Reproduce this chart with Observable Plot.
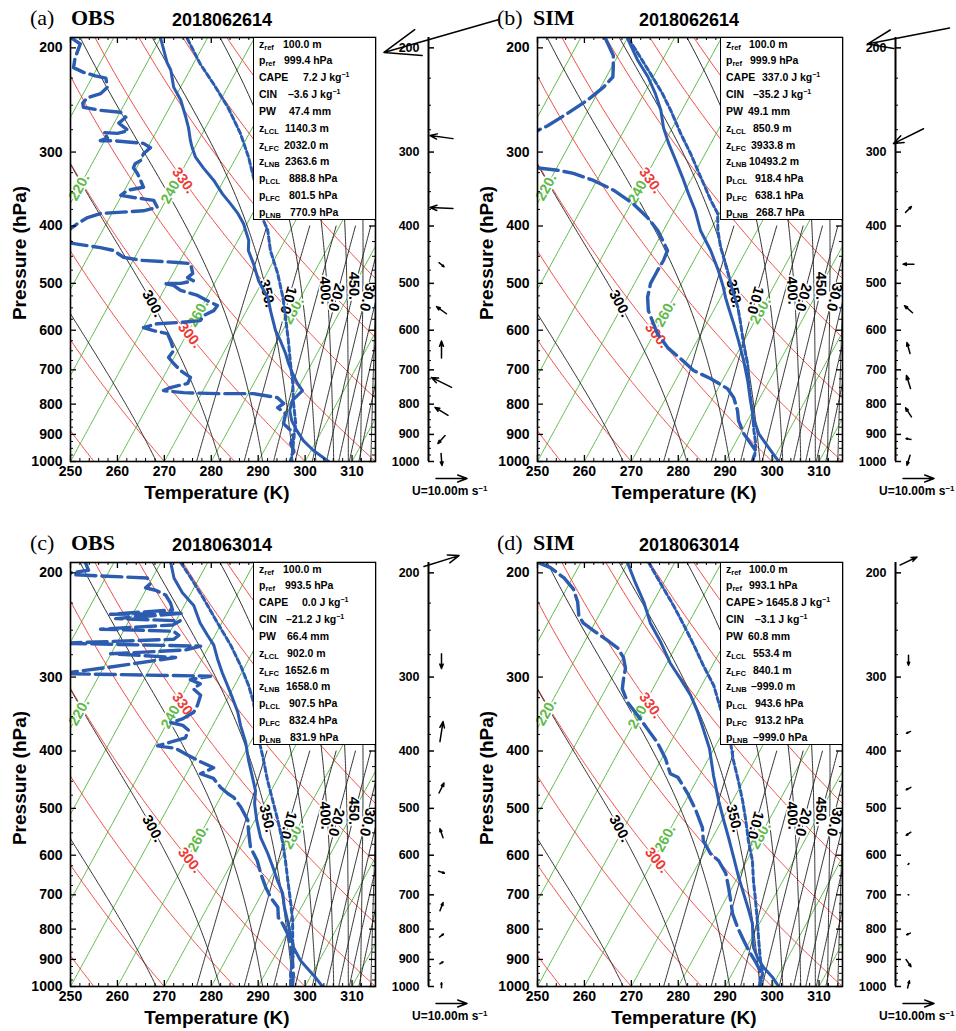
<!DOCTYPE html>
<html><head><meta charset="utf-8"><title>Skew-T soundings</title>
<script src="https://cdn.jsdelivr.net/npm/d3@7"></script>
<script src="https://cdn.jsdelivr.net/npm/@observablehq/plot@0.6"></script>
<style>
html,body{margin:0;padding:0;background:#fff}
#fig{position:relative;width:956px;height:1031px;overflow:hidden;font-family:"Liberation Sans",Arial,Helvetica,sans-serif;color:#000}
.panel{position:absolute;width:480px;height:510px}
.panel svg{position:absolute;top:0;overflow:visible}
.panel svg text{paint-order:stroke}
.tag{position:absolute;top:7px;font-family:"Liberation Serif","Times New Roman",serif;font-size:22px;line-height:22px;white-space:nowrap}
.src{position:absolute;top:7px;font-family:"Liberation Serif","Times New Roman",serif;font-weight:bold;font-size:22px;line-height:22px;white-space:nowrap}
.date{position:absolute;top:11px;font-weight:bold;font-size:18px;line-height:18px;white-space:nowrap}
.ylab{position:absolute;left:-70px;top:243px;width:180px;height:20px;line-height:20px;text-align:center;font-weight:bold;font-size:19px;transform:rotate(-90deg);white-space:nowrap}
.xlab{position:absolute;left:117px;top:483px;width:200px;height:20px;line-height:20px;text-align:center;font-weight:bold;font-size:19px;white-space:nowrap}
.info{position:absolute;left:253px;top:37px;width:123px;height:183px;background:#fff;border:1px solid #000;box-sizing:border-box;overflow:hidden;font-weight:bold;font-size:10.5px}
.info .r{position:absolute;white-space:nowrap;line-height:10px;height:10px}
.info sub{font-size:7.5px;vertical-align:-2px;line-height:0}
.info sup{font-size:7px;vertical-align:4px;line-height:0}
.uref{position:absolute;left:412px;top:485px;font-weight:bold;font-size:12px;line-height:12px;white-space:nowrap}
.uref sup{font-size:8px;vertical-align:4px;line-height:0}
</style></head>
<body><div id="fig"></div>
<script>
// ---------------- data ----------------
// profiles: [pressure hPa, temperature K]
const A_TEMP = [[192,219.9],[212,224.3],[218,225.9],[233,228.5],[245,231.5],[262,234.6],[273,236.4],[287,238.3],[295,239.5],[306,241.3],[319,244.2],[335,247.9],[353,251.3],[367,254.2],[380,256.7],[396,259.2],[423,262.3],[440,263.4],[463,266.0],[495,269.1],[514,271.3],[528,273.0],[556,275.1],[601,278.5],[625,280.7],[657,283.3],[683,285.1],[710,287.1],[738,289.3],[759,291.2],[774,290.7],[789,290.2],[820,290.8],[853,292.4],[886,294.6],[922,297.2],[958,300.5],[1000,305.0]];
const A_DEW = [[193,201.3],[197,203.6],[208,204.1],[216,204.9],[220,207.6],[223,210.5],[225,213.0],[233,214.4],[239,213.7],[243,211.3],[248,211.0],[252,211.6],[255,215.6],[257,220.1],[262,221.8],[268,221.0],[276,223.9],[279,221.9],[278,218.8],[284,220.3],[287,219.1],[287,221.9],[290,228.6],[295,230.6],[302,229.8],[310,230.0],[314,229.2],[319,229.3],[326,230.8],[335,232.3],[344,233.7],[348,230.7],[355,229.8],[358,232.8],[362,237.4],[372,239.0],[377,236.4],[381,227.6],[387,225.3],[396,223.9],[402,223.2],[415,222.0],[428,225.1],[435,231.5],[440,234.7],[452,237.6],[457,241.6],[461,249.7],[463,252.6],[481,254.2],[489,253.6],[495,255.2],[500,252.8],[500,249.2],[504,251.5],[514,253.6],[524,257.8],[535,260.5],[545,263.2],[556,263.0],[567,261.4],[578,261.3],[582,257.3],[585,252.5],[594,250.0],[601,252.5],[608,255.8],[625,257.3],[649,259.1],[667,258.8],[683,260.6],[702,262.9],[721,265.8],[738,265.9],[750,262.7],[759,261.6],[765,266.1],[768,273.4],[768,281.1],[780,286.7],[798,288.7],[811,287.9],[830,290.3],[863,291.0],[886,293.3],[911,294.8],[932,294.8],[958,296.3],[1000,296.9]];
const A_PARCEL = [[193,225.8],[213,231.5],[230,236.6],[252,242.4],[279,248.1],[306,252.6],[331,256.0],[392,263.2],[407,265.2],[440,268.1],[481,272.3],[528,276.2],[571,279.1],[625,282.4],[683,285.5],[738,288.3],[798,290.8],[863,293.6],[911,294.8],[958,296.1],[1000,296.9]];

const B_TEMP = [[193,220.1],[209,224.5],[224,228.9],[239,232.4],[255,235.5],[273,238.1],[290,241.0],[310,244.5],[331,247.9],[353,251.1],[377,254.5],[407,257.9],[440,262.4],[476,266.4],[508,269.4],[528,271.0],[549,272.8],[585,275.8],[625,278.8],[675,282.2],[730,285.4],[789,288.3],[843,290.9],[897,293.9],[932,296.5],[969,299.2],[1000,301.4]];
const B_DEW = [[193,215.4],[206,219.0],[216,220.4],[224,221.4],[233,220.6],[245,218.7],[258,216.0],[271,213.1],[276,211.6],[296,210.4],[319,215.9],[322,220.5],[326,224.2],[335,229.3],[348,234.7],[367,240.5],[387,245.1],[407,248.8],[423,251.0],[440,253.2],[457,253.5],[476,253.4],[500,253.4],[528,254.4],[556,256.1],[578,258.1],[608,260.7],[642,264.5],[670,268.5],[702,272.7],[724,277.2],[753,282.0],[780,284.4],[820,286.7],[853,288.1],[897,290.7],[932,293.3],[958,295.2],[1000,295.8]];
const B_PARCEL = [[193,220.3],[204,223.9],[221,229.0],[239,233.9],[255,237.6],[279,242.4],[302,246.9],[331,251.8],[362,256.6],[381,259.6],[407,261.6],[435,264.2],[476,268.3],[514,271.7],[549,274.8],[585,277.3],[632,280.2],[683,283.4],[730,285.6],[780,288.0],[830,290.3],[886,292.5],[932,294.4],[977,295.6]];

const C_TEMP = [[192,222.1],[204,224.6],[216,228.1],[227,232.0],[243,235.4],[255,238.4],[265,240.9],[279,243.2],[295,245.9],[310,248.5],[326,251.1],[344,253.8],[362,255.9],[387,259.0],[415,261.7],[437,263.9],[467,266.7],[491,268.0],[524,270.4],[560,273.2],[596,276.6],[629,279.3],[662,281.8],[696,284.4],[735,286.4],[774,288.6],[814,290.7],[859,293.0],[904,296.0],[932,298.4],[966,301.2],[1000,303.7]];
const C_DEW = [[192,203.9],[198,205.5],[201,200.0],[204,218.9],[209,220.2],[212,219.7],[214,222.1],[218,224.8],[225,226.8],[231,228.0],[235,215.3],[234,230.8],[239,216.9],[241,230.9],[245,229.8],[249,214.9],[251,230.7],[255,232.3],[259,231.7],[263,208.0],[266,238.2],[270,235.4],[274,219.9],[278,234.2],[289,220.8],[296,211.5],[299,243.8],[303,239.9],[308,242.5],[314,241.6],[322,243.9],[335,244.4],[344,244.4],[353,242.8],[358,240.7],[362,243.6],[369,245.4],[380,245.6],[392,240.6],[396,244.8],[407,248.3],[417,251.6],[427,255.1],[437,253.0],[445,256.3],[461,258.9],[472,261.1],[479,262.8],[498,265.5],[524,268.5],[545,269.8],[582,272.2],[613,275.2],[644,277.4],[680,280.1],[707,282.3],[735,285.0],[765,286.3],[783,287.9],[814,290.1],[859,292.4],[904,294.3],[951,296.0],[1000,297.3]];
const C_PARCEL = [[192,224.2],[204,228.2],[221,233.3],[243,239.1],[265,244.5],[287,249.0],[310,253.0],[331,256.0],[392,262.5],[415,264.9],[449,268.1],[485,271.5],[524,274.9],[567,278.2],[613,281.2],[662,284.0],[716,286.9],[774,289.7],[836,292.0],[880,293.7],[951,295.4],[1000,296.9]];

const D_TEMP = [[192,219.9],[208,224.0],[224,228.0],[243,231.8],[262,236.3],[284,240.7],[302,244.7],[322,248.8],[344,252.3],[367,255.4],[396,259.0],[440,263.0],[485,267.0],[524,270.4],[560,273.4],[605,276.8],[654,280.2],[696,283.1],[744,286.2],[783,288.5],[826,290.2],[859,291.5],[893,293.5],[929,296.0],[966,299.1],[1000,301.4]];
const D_DEW = [[192,200.8],[196,204.1],[204,208.2],[213,211.5],[224,213.9],[236,215.7],[243,217.5],[252,221.3],[260,224.7],[268,227.8],[278,230.1],[290,231.8],[302,232.6],[314,233.5],[331,236.2],[348,239.8],[367,243.5],[387,247.2],[412,250.8],[437,253.6],[443,255.6],[472,259.6],[504,263.3],[539,266.7],[567,268.4],[596,271.4],[613,274.0],[644,277.0],[680,279.2],[716,281.2],[753,283.1],[795,285.8],[836,288.6],[869,290.8],[904,293.3],[940,295.6],[977,296.8],[1000,297.3]];
const D_PARCEL = [[192,224.4],[208,229.3],[227,234.7],[245,239.2],[265,243.7],[287,248.1],[310,252.6],[331,255.6],[387,262.8],[415,265.5],[449,268.9],[485,272.1],[524,275.1],[567,278.0],[613,281.2],[662,283.7],[716,286.5],[774,289.2],[836,291.8],[904,294.5],[951,296.5],[1000,297.5]];

// winds: [pressure hPa, u m/s, v m/s]
const A_WIND = [[191,-37.1,-10.6],[283,-7.4,1.0],[373,-7.4,0.3],[465,1.6,-1.3],[555,-3.2,2.3],[647,0,5.5],[735,-6.5,3.2],[823,-4.2,2.6],[918,-2.3,-2.6],[992,0.3,-3.9]];
const B_WIND = [[191,-26.5,-5.2],[282,-9.7,-4.8],[375,1.9,1.9],[464,-3.5,0],[553,-2.6,2.3],[643,-1.0,3.5],[734,-1.3,4.2],[826,-1.9,2.9],[916,-1.6,0.3],[995,-1.0,-3.2]];
const C_WIND = [[191,11.3,3.5],[282,0,-4.8],[371,1.0,6.5],[462,1.6,3.2],[551,-1.0,2.9],[641,1.9,-0.6],[733,1.0,2.6],[820,1.3,1.0],[912,1.0,0.6],[995,0,1.6]];
const D_WIND = [[191,5.5,2.6],[281,0,-3.2],[372,-1.3,-0.6],[463,-1.5,-0.8],[552,-1.5,-1.0],[621,0.3,0.3],[700,0.2,0],[815,-1.2,-0.5],[913,1.6,-2.3],[992,0.6,2.3]];
const REF_WIND = [10];

// info boxes
const INFO_LABELS = ["z<sub>ref</sub>","p<sub>ref</sub>","CAPE","CIN","PW","z<sub>LCL</sub>","z<sub>LFC</sub>","z<sub>LNB</sub>","p<sub>LCL</sub>","p<sub>LFC</sub>","p<sub>LNB</sub>"];
const INFO_UNITS = ["m","hPa","J kg<sup>\u22121</sup>","J kg<sup>\u22121</sup>","mm","m","m","m","hPa","hPa","hPa"];
const A_INFO = ["100.0","999.4","7.2","\u20133.6","47.4","1140.3","2032.0","2363.6","888.8","801.5","770.9"];
const B_INFO = ["100.0","999.9","337.0","\u201335.2","49.1","850.9","3933.8","10493.2","918.4","638.1","268.7"];
const C_INFO = ["100.0","993.5","0.0","\u201321.2","66.4","902.0","1652.6","1658.0","907.5","832.4","831.9"];
const D_INFO = ["100.0","993.1","> 1645.8","\u20133.1","60.8","553.4","840.1","\u2013999.0","943.6","913.2","\u2013999.0"];

// titles
const TAGS = ["(a)","(b)","(c)","(d)"];
const SOURCES = ["OBS","SIM","OBS","SIM"];
const DATES = ["2018062614","2018062614","2018063014","2018063014"];

// axes / background line values
const P_TICKS = [200,300,400,500,600,700,800,900,1000];
const P_MINOR = [225,250,275,325,350,375,425,450,475,525,550,575,625,650,675,725,750,775,825,850,875,925,950,975];
const T_TICKS = [250,260,270,280,290,300,310];
const T_MINOR = [252,254,256,258,262,264,266,268,272,274,276,278,282,284,286,288,292,294,296,298,302,304,306,308,312,314];
const ISOTHERMS = [200,210,220,230,240,250,260,270,280,290,300,310];
const DRY_ADIABATS = [255,270,285,300,315,330,345,360,375,390,405,420];
const MOIST_ADIABATS = [275,300,325,350,375,400,425,450,475,500];
const MIX_RATIOS = [5,10,15,20,25,30,35,40,45];
// labels on background lines: [family, value, pressure, text, horizontal nudge px]
const LINE_LABELS = [["iso",220,344,"220.",0],["iso",240,348,"240.",0],["iso",260,562,"260.",0],["iso",280,556,"280.",0],
  ["dry",330,335,"330.",0],["dry",300,612,"300.",0],
  ["moist",300,541,"300.",0],["moist",350,520,"350.",0],["moist",400,514,"400.",-2],["moist",450,505,"450.",-9],
  ["mix",10,534,"10.0",0],["mix",20,528,"20.0",0],["mix",30,528,"30.0",2]];

// ---------------- layout / style ----------------
const FONT = '"Liberation Sans", Arial, Helvetica, sans-serif';
const BLUE = "#2b5cb0", GREEN = "#5fba4a", RED = "#ee3a35", BLACK = "#1c1c1c";
const VALUE_X = [[283,284,303,288,289,285,284,285,289,289,290],[282,283,295,286,281,286,284,282,288,288,289],[283,285,302,286,287,287,285,286,289,289,290],[282,282,290,288,281,286,286,284,288,288,286]];

// ---------------- thermodynamics for the background diagram ----------------
const SK = 29.85, KAPPA = 0.2857, P_TOP = 192.1, P_BOT = 1000;
const skewX = (T, p) => T + SK * Math.log(1000 / p);
const es = T => { const c = T - 273.15; return 6.112 * Math.exp(17.67 * c / (c + 243.5)); };
const thetaE = (T, p) => { const e = es(T), r = 0.622 * e / (p - e); return T * Math.pow(1000 / p, KAPPA) * Math.exp(2.5e6 * r / (1004 * T)); };
const lineT = {
  iso: (v) => v,
  dry: (v, p) => v * Math.pow(p / 1000, KAPPA),
  moist: (v, p) => { let lo = 150, hi = 320; for (let i = 0; i < 40; i++) { const m = (lo + hi) / 2; if (thetaE(m, p) > v) hi = m; else lo = m; } return (lo + hi) / 2; },
  mix: (v, p) => { const e = v * p / (622 + v), L = Math.log(e / 6.112); return 273.15 + 243.5 * L / (17.67 - L); }
};
const pSample = d3.range(1000, 185, -5);
function family(kind, values, pMin) {
  const out = [];
  for (const v of values) for (const p of pSample) if (p >= pMin) out.push({v, p, x: skewX(lineT[kind](v, p), p)});
  return out;
}
const bgIso = family("iso", ISOTHERMS, 0);
const bgDry = family("dry", DRY_ADIABATS, 0);
const bgMoist = family("moist", MOIST_ADIABATS, 0);
const bgMix = family("mix", MIX_RATIOS, 400);

const KX = 305 / 65, KY = 424 / Math.log(1000 / P_TOP);
const labels = LINE_LABELS.map(([kind, v, p, text, nudge]) => {
  const p1 = p * 0.97, p2 = p * 1.03;
  const dx = (skewX(lineT[kind](v, p2), p2) - skewX(lineT[kind](v, p1), p1)) * KX;
  const dy = (Math.log(p2) - Math.log(p1)) * KY;
  let a = Math.atan2(dy, dx) * 180 / Math.PI;
  if (kind === "iso") a -= 180;
  return {kind, text, p, x: skewX(lineT[kind](v, p), p) + nudge / KX, angle: a};
});

const arrowHead = {draw(ctx, l) {
  const h = l * 0.32, a = 0.36, sx = h * Math.sin(a), sy = h * Math.cos(a);
  ctx.moveTo(0, 0); ctx.lineTo(0, -l);
  ctx.moveTo(-sx, -l + sy); ctx.lineTo(0, -l); ctx.lineTo(sx, -l + sy);
}};

function skewT(pd) {
  const tx = d => skewX(d[1], d[0]), ty = d => d[0];
  const lab = k => labels.filter(d => d.kind === k);
  const labOpts = (fill) => ({x: "x", y: "p", text: "text", rotate: "angle", fill, stroke: "white", strokeWidth: 3.5, fontSize: 14.5, fontWeight: "bold"});
  return Plot.plot({
    width: 480, height: 505, marginLeft: 70, marginRight: 105, marginTop: 37, marginBottom: 44,
    x: {domain: [250, 315], axis: null},
    y: {type: "log", domain: [P_TOP, P_BOT], reverse: true, axis: null},
    style: {background: "transparent", overflow: "visible", fontFamily: FONT, color: "#000"},
    marks: [
      Plot.line(bgIso, {x: "x", y: "p", z: "v", stroke: GREEN, strokeWidth: 1, clip: true}),
      Plot.line(bgDry, {x: "x", y: "p", z: "v", stroke: RED, strokeWidth: 0.9, clip: true}),
      Plot.line(bgMoist, {x: "x", y: "p", z: "v", stroke: BLACK, strokeWidth: 0.9, clip: true}),
      Plot.line(bgMix, {x: "x", y: "p", z: "v", stroke: BLACK, strokeWidth: 0.9, clip: true}),
      Plot.text(lab("iso"), labOpts(GREEN)),
      Plot.text(lab("dry"), labOpts(RED)),
      Plot.text(lab("moist"), labOpts("#000")),
      Plot.text(lab("mix"), labOpts("#000")),
      Plot.line(pd.dew, {x: tx, y: ty, stroke: BLUE, strokeWidth: 3.4, strokeDasharray: "20,6", clip: true}),
      Plot.line(pd.parcel, {x: tx, y: ty, stroke: BLUE, strokeWidth: 3, strokeDasharray: "5,3", clip: true}),
      Plot.line(pd.temp, {x: tx, y: ty, stroke: BLUE, strokeWidth: 3, clip: true}),
      Plot.ruleX(T_MINOR, {x: d => d, insetTop: 421, strokeWidth: 1}),
      Plot.ruleX(T_TICKS, {x: d => d, insetTop: 418, strokeWidth: 1.3}),
      Plot.ruleX(T_MINOR, {x: d => d, insetBottom: 421, strokeWidth: 1}),
      Plot.ruleX(T_TICKS, {x: d => d, insetBottom: 418, strokeWidth: 1.3}),
      Plot.ruleY(P_MINOR, {y: d => d, insetRight: 302, strokeWidth: 1}),
      Plot.ruleY(P_TICKS, {y: d => d, insetRight: 299, strokeWidth: 1.3}),
      Plot.ruleY(P_MINOR, {y: d => d, insetLeft: 302, strokeWidth: 1}),
      Plot.ruleY(P_TICKS, {y: d => d, insetLeft: 299, strokeWidth: 1.3}),
      Plot.frame({stroke: "#000", strokeWidth: 1.6}),
      Plot.text(P_TICKS, {y: d => d, text: d => String(d), frameAnchor: "left", dx: -8, textAnchor: "end", fontSize: 14, fontWeight: "bold"}),
      Plot.text(T_TICKS, {x: d => d, text: d => String(d), frameAnchor: "bottom", dy: 14, fontSize: 14, fontWeight: "bold"})
    ]
  });
}

function windPlot(winds) {
  return Plot.plot({
    width: 100, height: 505, marginLeft: 48, marginRight: 0, marginTop: 37, marginBottom: 44,
    x: {domain: [0, 1], axis: null},
    y: {type: "log", domain: [P_TOP, P_BOT], reverse: true, axis: null},
    length: {domain: [0, 10], range: [0, 31]},
    style: {background: "transparent", overflow: "visible", fontFamily: FONT, color: "#000"},
    marks: [
      Plot.ruleX([0], {strokeWidth: 2}),
      Plot.ruleY(P_MINOR, {y: d => d, insetRight: 49, strokeWidth: 1}),
      Plot.ruleY(P_TICKS, {y: d => d, insetRight: 46, strokeWidth: 1.5}),
      Plot.text(P_TICKS, {y: d => d, text: d => String(d), frameAnchor: "left", dx: -9, textAnchor: "end", fontSize: 12.5, fontWeight: "bold"}),
      Plot.vector(winds, {y: d => d[0], frameAnchor: "left", dx: 13, length: d => Math.hypot(d[1], d[2]), rotate: d => Math.atan2(d[1], d[2]) * 180 / Math.PI, anchor: "middle", shape: arrowHead, stroke: "#000", strokeWidth: 1.5}),
      Plot.vector(REF_WIND, {frameAnchor: "bottom-left", dx: 23, dy: 17, length: d => d, rotate: 90, anchor: "middle", shape: arrowHead, stroke: "#000", strokeWidth: 1.5})
    ]
  });
}

const panels = [
  {temp: A_TEMP, dew: A_DEW, parcel: A_PARCEL, wind: A_WIND, info: A_INFO},
  {temp: B_TEMP, dew: B_DEW, parcel: B_PARCEL, wind: B_WIND, info: B_INFO},
  {temp: C_TEMP, dew: C_DEW, parcel: C_PARCEL, wind: C_WIND, info: C_INFO},
  {temp: D_TEMP, dew: D_DEW, parcel: D_PARCEL, wind: D_WIND, info: D_INFO}
];
const esc = s => s.replace(/&/g, "&amp;").replace(/</g, "&lt;").replace(/>/g, "&gt;");
const fig = document.getElementById("fig");
panels.forEach((pd, i) => {
  const div = document.createElement("div");
  div.className = "panel";
  div.style.left = (i % 2) * 467 + "px";
  div.style.top = Math.floor(i / 2) * 525 + "px";
  const s = skewT(pd); s.style.left = "0px"; div.appendChild(s);
  const w = windPlot(pd.wind); w.style.left = "380px"; div.appendChild(w);
  let rows = "";
  pd.info.forEach((v, k) => {
    const top = 0.5 + 16.85 * k;
    rows += `<div class="r" style="left:5px;top:${top}px">${INFO_LABELS[k]}</div>`;
    rows += `<div class="r" style="left:${VALUE_X[i][k] - 254}px;top:${top}px">${esc(v)} ${INFO_UNITS[k]}</div>`;
  });
  div.insertAdjacentHTML("beforeend",
    `<div class="tag" style="left:30px">${TAGS[i]}</div>` +
    `<div class="src" style="left:${i % 2 ? 66 : 71}px">${SOURCES[i]}</div>` +
    `<div class="date" style="left:172px">${DATES[i]}</div>` +
    `<div class="ylab">Pressure (hPa)</div>` +
    `<div class="xlab">Temperature (K)</div>` +
    `<div class="info">${rows}</div>` +
    `<div class="uref">U=10.00m s<sup>\u22121</sup></div>`);
  fig.appendChild(div);
});
</script></body></html>
